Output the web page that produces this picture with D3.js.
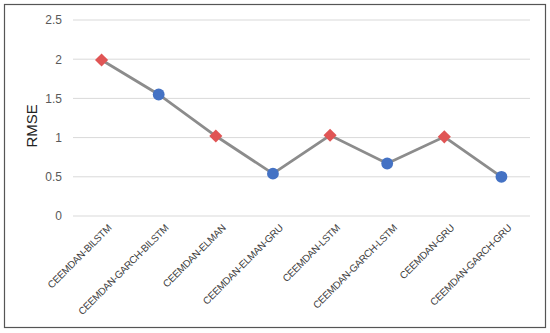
<!DOCTYPE html>
<html>
<head>
<meta charset="utf-8">
<script src="https://cdn.jsdelivr.net/npm/d3@7"></script>
<style>
  body { margin: 0; background: #fff; }
  svg { font-family: "Liberation Sans", Arial, sans-serif; }
</style>
</head>
<body>
<div id="chart"></div>
<script>
var models = ["CEEMDAN-BILSTM", "CEEMDAN-GARCH-BILSTM", "CEEMDAN-ELMAN", "CEEMDAN-ELMAN-GRU",
              "CEEMDAN-LSTM", "CEEMDAN-GARCH-LSTM", "CEEMDAN-GRU", "CEEMDAN-GARCH-GRU"];
var rmse = [1.99, 1.55, 1.02, 0.54, 1.03, 0.67, 1.01, 0.50];
var yTicks = [0, 0.5, 1, 1.5, 2, 2.5];

var width = 550, height = 333;
var margin = {top: 20, right: 20, bottom: 117, left: 73};

var svg = d3.select('#chart').append('svg').attr('width', width).attr('height', height);

// outer frame
svg.append('rect')
   .attr('x', 4.5).attr('y', 4.5)
   .attr('width', 541).attr('height', 323)
   .attr('fill', '#fff').attr('stroke', '#555').attr('stroke-width', 1.2);

var x = d3.scaleBand().domain(models).range([margin.left, width - margin.right]);
var y = d3.scaleLinear().domain([0, 2.5]).range([height - margin.bottom, margin.top]);

// gridlines
svg.selectAll('.grid')
   .data(yTicks)
   .enter().append('line')
   .attr('x1', margin.left).attr('x2', width - margin.right)
   .attr('y1', function (d) { return y(d); })
   .attr('y2', function (d) { return y(d); })
   .attr('stroke', '#d9d9d9').attr('stroke-width', 1);

// y axis labels
var yAxis = svg.append('g')
   .attr('transform', 'translate(' + (margin.left - 8) + ',0)')
   .call(d3.axisLeft(y).tickValues(yTicks).tickSize(0).tickFormat(d3.format('')));
yAxis.select('.domain').remove();
yAxis.selectAll('text').attr('fill', '#595959').style('font-size', '12px');

// x axis labels
var xAxis = svg.append('g')
   .attr('transform', 'translate(0,' + (height - margin.bottom) + ')')
   .call(d3.axisBottom(x).tickSize(0));
xAxis.select('.domain').remove();
xAxis.selectAll('text')
   .attr('fill', '#404040')
   .style('font-size', '10px')
   .style('letter-spacing', '-0.3px')
   .attr('text-anchor', 'end')
   .attr('dy', '0.35em')
   .attr('transform', 'translate(6,8) rotate(-45)');

// y title
svg.append('text')
   .attr('transform', 'translate(37,' + y(1.15) + ') rotate(-90)')
   .attr('text-anchor', 'middle')
   .style('font-size', '15px')
   .attr('fill', '#222')
   .text('RMSE');

// line
var line = d3.line()
   .x(function (d, i) { return x(models[i]) + x.bandwidth() / 2; })
   .y(function (d) { return y(d); });

svg.append('path')
   .datum(rmse)
   .attr('d', line)
   .attr('fill', 'none')
   .attr('stroke', '#8c8c8c')
   .attr('stroke-width', 2.8);

// markers: diamonds on even, circles on odd
svg.selectAll('.mk')
   .data(rmse)
   .enter().append('path')
   .attr('transform', function (d, i) {
       return 'translate(' + (x(models[i]) + x.bandwidth() / 2) + ',' + y(d) + ')';
   })
   .attr('d', function (d, i) {
       return i % 2 === 0
           ? d3.symbol().type(d3.symbolDiamond2).size(110)()
           : d3.symbol().type(d3.symbolCircle).size(110)();
   })
   .attr('fill', function (d, i) { return i % 2 === 0 ? '#e05555' : '#4472c4'; });
</script>
</body>
</html>
